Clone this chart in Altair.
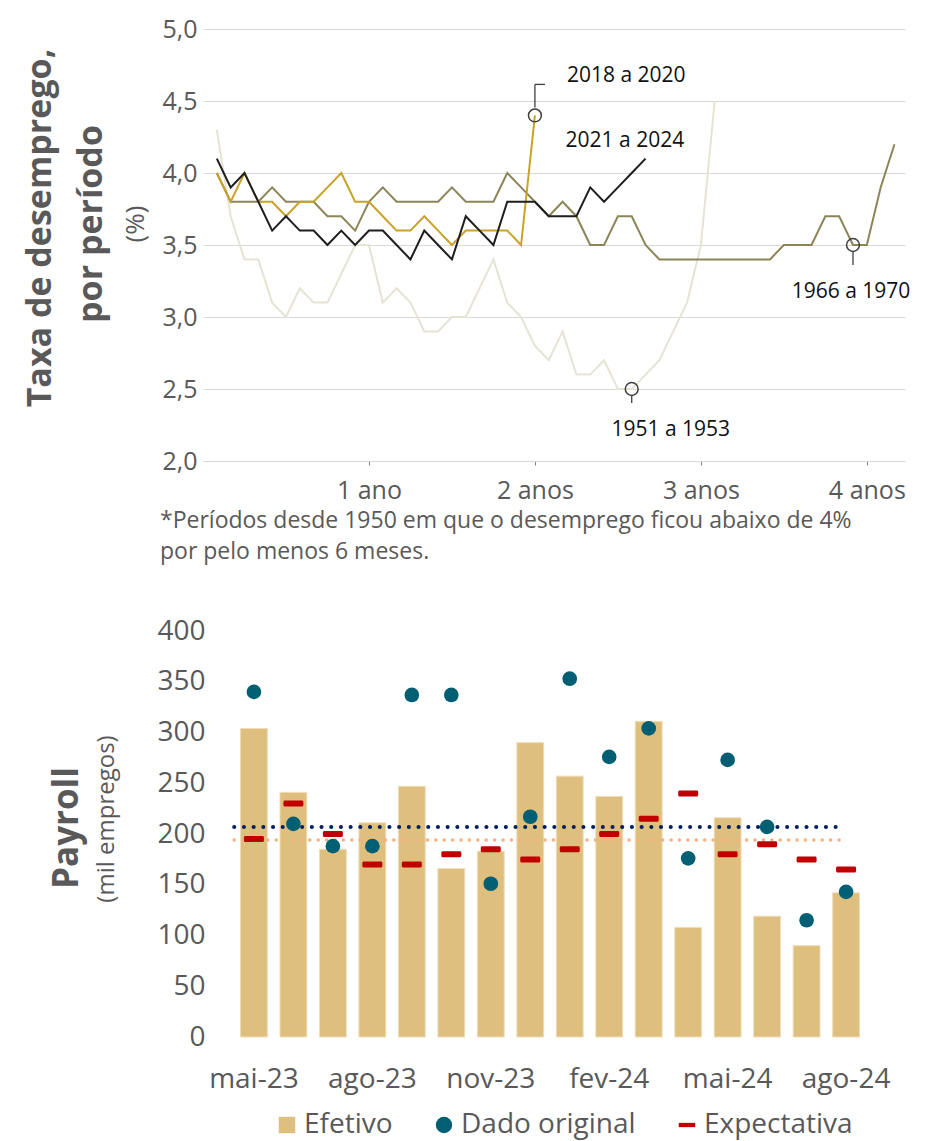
import altair as alt
import pandas as pd

FONTE = "Open Sans"
CINZA = "#595959"

# ---------------- Gráfico 1: taxa de desemprego por período ----------------
periodos = ["1951 a 1953", "1966 a 1970", "2018 a 2020", "2021 a 2024"]
cores_periodos = ["#E7E3D4", "#8C8557", "#C9A227", "#1E1E1E"]

taxa_1951 = [4.3, 3.7, 3.4, 3.4, 3.1, 3.0, 3.2, 3.1, 3.1, 3.3, 3.5, 3.5, 3.1, 3.2, 3.1,
             2.9, 2.9, 3.0, 3.0, 3.2, 3.4, 3.1, 3.0, 2.8, 2.7, 2.9, 2.6, 2.6, 2.7, 2.5,
             2.5, 2.6, 2.7, 2.9, 3.1, 3.5, 4.5]
taxa_1966 = [4.0, 3.8, 3.8, 3.8, 3.9, 3.8, 3.8, 3.8, 3.7, 3.7, 3.6, 3.8, 3.9, 3.8, 3.8,
             3.8, 3.8, 3.9, 3.8, 3.8, 3.8, 4.0, 3.9, 3.8, 3.7, 3.8, 3.7, 3.5, 3.5, 3.7,
             3.7, 3.5, 3.4, 3.4, 3.4, 3.4, 3.4, 3.4, 3.4, 3.4, 3.4, 3.5, 3.5, 3.5, 3.7,
             3.7, 3.5, 3.5, 3.9, 4.2]
taxa_2018 = [4.0, 3.8, 4.0, 3.8, 3.8, 3.7, 3.8, 3.8, 3.9, 4.0, 3.8, 3.8, 3.7, 3.6, 3.6,
             3.7, 3.6, 3.5, 3.6, 3.6, 3.6, 3.6, 3.5, 4.4]
taxa_2021 = [4.1, 3.9, 4.0, 3.8, 3.6, 3.7, 3.6, 3.6, 3.5, 3.6, 3.5, 3.6, 3.6, 3.5, 3.4,
             3.6, 3.5, 3.4, 3.7, 3.6, 3.5, 3.8, 3.8, 3.8, 3.7, 3.7, 3.7, 3.9, 3.8, 3.9,
             4.0, 4.1]
series_top = [taxa_1951, taxa_1966, taxa_2018, taxa_2021]

x_ticks = [12, 24, 36, 48]
x_rotulos = ["1 ano", "2 anos", "3 anos", "4 anos"]
y_ticks = [2.0, 2.5, 3.0, 3.5, 4.0, 4.5, 5.0]

# rótulos dos períodos e mês (do período) em que se ancoram
rotulos_anot = ["2018 a 2020", "2021 a 2024", "1951 a 1953", "1966 a 1970"]
meses_anot = [24, 32, 31, 47]
circulos_anot = ["2018 a 2020", "1951 a 1953", "1966 a 1970"]

titulo_y1 = ["Taxa de desemprego,", "por período"]
unidade_y1 = "(%)"
nota = ["*Períodos desde 1950 em que o desemprego ficou abaixo de 4%",
        "por pelo menos 6 meses."]

linhas = []
for nome, valores in zip(periodos, series_top):
    for i, v in enumerate(valores, start=1):
        linhas.append({"periodo": nome, "mes": i, "taxa": v})
df_top = pd.DataFrame(linhas)

serie_por_nome = dict(zip(periodos, series_top))
df_anot = pd.DataFrame({
    "rotulo": rotulos_anot,
    "mes": meses_anot,
    "taxa": [serie_por_nome[r][m - 1] for r, m in zip(rotulos_anot, meses_anot)],
})

W1, H1 = 702, 432

expr_x = "''"
for v, r in reversed(list(zip(x_ticks, x_rotulos))):
    expr_x = f"datum.value == {v} ? '{r}' : ({expr_x})"

X1 = alt.X("mes:Q", scale=alt.Scale(domain=[0, 50.76], nice=False, zero=False),
           axis=alt.Axis(values=x_ticks, labelExpr=expr_x, grid=False,
                         domainColor="#D9D9D9", domainWidth=1, tickColor="#7F7F7F",
                         tickSize=4, labelFontSize=25, labelColor=CINZA, labelPadding=13,
                         labelFlush=False, title=None, labelFont=FONTE))
Y1 = alt.Y("taxa:Q", scale=alt.Scale(domain=[2, 5], nice=False, zero=False),
           axis=alt.Axis(values=y_ticks,
                         labelExpr="replace(format(datum.value, '.1f'), '.', ',')",
                         grid=True, gridColor="#D9D9D9", gridWidth=1, domain=False,
                         ticks=False, labelPadding=6, labelFontSize=25, labelColor=CINZA,
                         title=None, labelFont=FONTE))

camadas = []
for nome, cor in zip(periodos, cores_periodos):
    camadas.append(
        alt.Chart(df_top).transform_filter(alt.datum.periodo == nome)
        .mark_line(color=cor, strokeWidth=2)
        .encode(x=X1, y=Y1, order="mes:Q")
    )

base_anot = alt.Chart(df_anot)
circ = base_anot.transform_filter(
    alt.FieldOneOfPredicate(field="rotulo", oneOf=circulos_anot)
).mark_point(shape="circle", size=165, filled=False, stroke="#3F3F3F",
             strokeWidth=1.5, opacity=1).encode(x=X1, y=Y1)
camadas.append(circ)

# linhas-guia dos rótulos
def guia(rotulo, y0, y1):
    return base_anot.transform_filter(alt.datum.rotulo == rotulo).mark_rule(
        color="#3F3F3F", strokeWidth=1.3, yOffset=y0, y2Offset=y1
    ).encode(x=X1, y=Y1, y2="taxa:Q")

camadas.append(guia("2018 a 2020", -8, -31))
camadas.append(base_anot.transform_filter(alt.datum.rotulo == "2018 a 2020").mark_rule(
    color="#3F3F3F", strokeWidth=1.3, yOffset=-31, y2Offset=-31, x2Offset=10
).encode(x=X1, x2="mes:Q", y=Y1, y2="taxa:Q"))
camadas.append(guia("1951 a 1953", 7, 14))
camadas.append(guia("1966 a 1970", 7, 20))

def rotulo(r, dx, dy, align):
    return base_anot.transform_filter(alt.datum.rotulo == r).mark_text(
        font=FONTE, fontSize=21, color="#111111", align=align, baseline="middle",
        dx=dx, dy=dy
    ).encode(x=X1, y=Y1, text="rotulo:N")

camadas.append(rotulo("2018 a 2020", 32, -39, "left"))
camadas.append(rotulo("2021 a 2024", -80, -18, "left"))
camadas.append(rotulo("1951 a 1953", 39, 41, "center"))
camadas.append(rotulo("1966 a 1970", -2, 47, "center"))

def texto_fixo(t, x, y, size, bold=False, angle=0, align="center", color=CINZA):
    return alt.Chart(pd.DataFrame({"t": [t]})).mark_text(
        font=FONTE, fontSize=size, fontWeight="bold" if bold else "normal",
        angle=angle, align=align, baseline="middle", color=color
    ).encode(x=alt.value(x), y=alt.value(y), text="t:N")

camadas.append(texto_fixo(titulo_y1[0], -162, 199, 34, bold=True, angle=270))
camadas.append(texto_fixo(titulo_y1[1], -111, 195, 34, bold=True, angle=270))
camadas.append(texto_fixo(unidade_y1, -67, 195, 26, angle=270))
camadas.append(texto_fixo(nota[0], -43, 492, 23, align="left"))
camadas.append(texto_fixo(nota[1], -43, 523, 23, align="left"))

top = alt.layer(*camadas).properties(width=W1, height=H1)

# ---------------- Gráfico 2: Payroll ----------------
meses = ["mai-23", "jun-23", "jul-23", "ago-23", "set-23", "out-23", "nov-23", "dez-23",
         "jan-24", "fev-24", "mar-24", "abr-24", "mai-24", "jun-24", "jul-24", "ago-24"]
meses_eixo = ["mai-23", "ago-23", "nov-23", "fev-24", "mai-24", "ago-24"]
efetivo = [304, 241, 185, 211, 247, 166, 183, 290, 257, 237, 311, 108, 216, 119, 90, 142]
dado_original = [340, 210, 188, 188, 337, 337, 151, 217, 353, 276, 304, 176, 273, 207, 115, 143]
expectativa = [195, 230, 200, 170, 170, 180, 185, 175, 185, 200, 215, 240, 180, 190, 175, 165]
media_efetivo = 207
media_expectativa = 194
series_legenda = ["Efetivo", "Dado original", "Expectativa"]
cores_legenda = ["#DFBF7E", "#005F73", "#C00000"]
formas_legenda = ["square", "circle", "M-1,-0.26L1,-0.26L1,0.26L-1,0.26Z"]
y_ticks2 = [0, 50, 100, 150, 200, 250, 300, 350, 400]
titulo_y2 = "Payroll"
unidade_y2 = "(mil empregos)"

df_b = pd.DataFrame({"mes_ref": meses, "efetivo": efetivo,
                     "original": dado_original, "expectativa": expectativa})

W2, H2 = 694, 406
PI, PO = 0.32, 0.95
passo = W2 / (len(meses) - PI + 2 * PO)
x_ini = passo * PO + passo * (1 - PI) / 2 - passo / 2
x_fim = passo * PO + passo * (1 - PI) / 2 + passo * (len(meses) - 1)

X2 = alt.X("mes_ref:N", sort=meses, scale=alt.Scale(paddingInner=PI, paddingOuter=PO),
           axis=alt.Axis(values=meses_eixo, labelAngle=0, domain=False, ticks=False,
                         labelFontSize=28, labelColor=CINZA, labelPadding=28,
                         title=None, grid=False, labelFont=FONTE))

def Y2(campo):
    return alt.Y(f"{campo}:Q", scale=alt.Scale(domain=[0, 400], nice=False),
                 axis=alt.Axis(values=y_ticks2, domain=False, ticks=False, grid=False,
                               labelFontSize=28, labelColor=CINZA, labelPadding=-2,
                               title=None, labelFont=FONTE))

base_b = alt.Chart(df_b)
barras = base_b.mark_bar(color=cores_legenda[0], stroke="#EEDDB8", strokeWidth=1).encode(
    x=X2, y=Y2("efetivo"))
ref_azul = alt.Chart(pd.DataFrame({"v": [media_efetivo]})).mark_rule(
    color="#002060", strokeWidth=4, strokeDash=[0.1, 9.6], strokeCap="round"
).encode(y=Y2("v"), x=alt.value(x_ini), x2=alt.value(x_fim - 8))
ref_laranja = alt.Chart(pd.DataFrame({"v": [media_expectativa]})).mark_rule(
    color="#F4B183", strokeWidth=3.5, strokeDash=[0.1, 8.3], strokeCap="round"
).encode(y=Y2("v"), x=alt.value(x_ini), x2=alt.value(x_fim))
tracos = base_b.mark_tick(color=cores_legenda[2], orient="horizontal", size=20,
                          thickness=6, cornerRadius=1.5, opacity=1).encode(
    x=X2, y=Y2("expectativa"))
pontos = base_b.mark_circle(color=cores_legenda[1], size=215, opacity=1).encode(
    x=X2, y=Y2("original"))

leg = alt.Legend(orient="none", legendX=70, legendY=1082, direction="horizontal",
                 title=None, labelFontSize=28, labelColor=CINZA, labelFont=FONTE,
                 labelLimit=400, symbolSize=270, symbolStrokeWidth=0, labelOffset=3,
                 columnPadding=37, padding=0, symbolOpacity=1)
legenda = alt.Chart(pd.DataFrame({"serie": series_legenda})).transform_filter(
    "false").mark_point(filled=True, opacity=1).encode(
    color=alt.Color("serie:N", scale=alt.Scale(domain=series_legenda, range=cores_legenda),
                    legend=leg),
    shape=alt.Shape("serie:N", scale=alt.Scale(domain=series_legenda, range=formas_legenda),
                    legend=leg),
)

tit2a = texto_fixo(titulo_y2, -136, 197, 35, bold=True, angle=270)
tit2b = texto_fixo(unidade_y2, -96, 188, 24, angle=270)

bottom = alt.layer(barras, ref_laranja, ref_azul, tracos, pontos, legenda, tit2a, tit2b
                   ).properties(width=W2, height=H2)

chart = alt.vconcat(top, bottom, spacing=53).properties(
    padding={"left": 16, "top": 9, "right": 5, "bottom": 5}
).configure(font=FONTE).configure_view(stroke=None)

chart.save("out.html", embed_options={"renderer": "svg", "actions": False})
